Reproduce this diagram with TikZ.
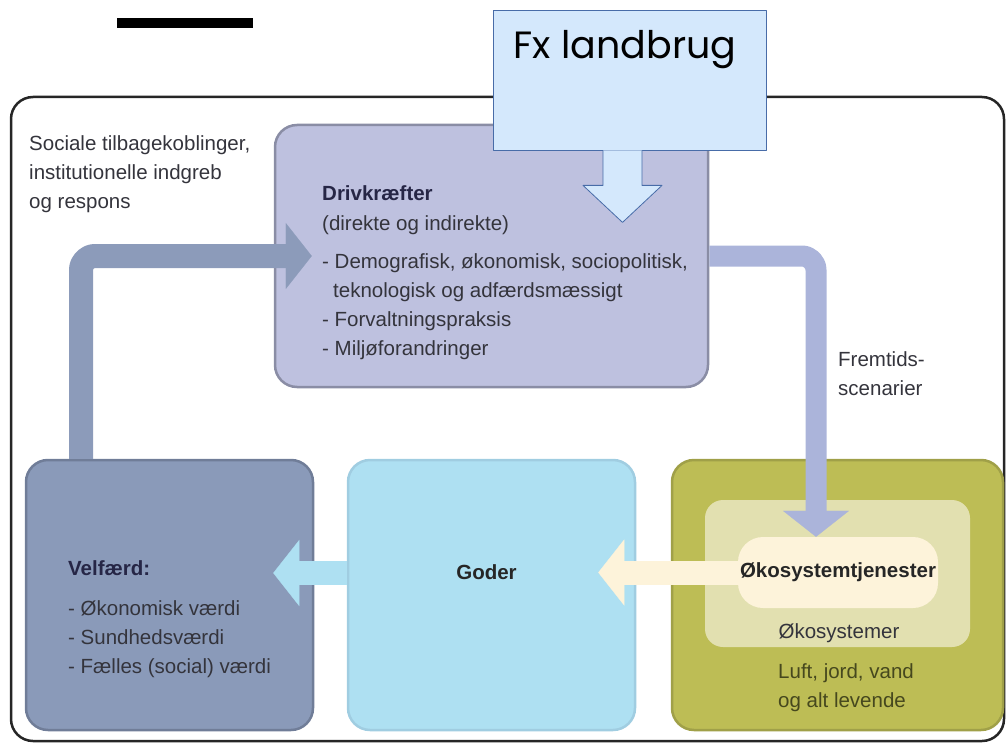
\documentclass[tikz,border=0pt]{standalone}
\usepackage{fontspec}
\setmainfont{Liberation Sans}
\newfontfamily\gothicfont{Poppins}
\usepackage{tikz}
\usetikzlibrary{arrows.meta,positioning,calc}
\definecolor{driveFill}{RGB}{190,193,223}
\definecolor{driveLine}{RGB}{138,141,165}
\definecolor{velfFill}{RGB}{138,154,185}
\definecolor{velfLine}{RGB}{112,125,152}
\definecolor{goderFill}{RGB}{174,224,242}
\definecolor{goderLine}{RGB}{160,205,225}
\definecolor{ecoFill}{RGB}{189,189,85}
\definecolor{ecoLine}{RGB}{160,160,72}
\definecolor{paleFill}{RGB}{226,224,176}
\definecolor{creamFill}{RGB}{253,243,218}
\definecolor{loopCol}{RGB}{140,155,186}
\definecolor{scenCol}{RGB}{171,180,218}
\definecolor{landFill}{RGB}{212,232,252}
\definecolor{landLine}{RGB}{72,108,168}
\definecolor{inkGray}{RGB}{52,52,60}
\definecolor{inkNavy}{RGB}{38,38,70}
\definecolor{inkOlive}{RGB}{70,72,30}
\tikzset{
  panel/.style={draw, rounded corners=22pt, line width=2.5pt, minimum width=287pt, minimum height=270pt, inner sep=0pt},
  txt/.style={font=\fontsize{20.5}{29}\selectfont, text=inkGray, align=left, inner sep=0pt},
  headtxt/.style={txt, font=\fontsize{20.5}{29}\selectfont\bfseries, text=inkNavy},
  blockarr/.style={line width=24pt, -{Triangle[length=26pt,width=66pt,line width=0.2pt]}},
  frame/.style={draw=black!85, line width=2.5pt, rounded corners=22pt}
}
\begin{document}
\begin{tikzpicture}[x=1pt,y=-1pt, line join=round]
\useasboundingbox (0,0) rectangle (1008,743);

% top bar and outer frame
\fill[black] (117,18) rectangle (253,28);
\draw[frame] (11,97) rectangle (1004,741);

% Boxes
\node[panel, fill=driveFill, draw=driveLine, minimum width=433pt, minimum height=262pt] (drive) at (491.5,256) {};
\node[panel, fill=velfFill, draw=velfLine] (velf) at (169.5,595) {};
\node[panel, fill=goderFill, draw=goderLine] (goder) at (491.5,595) {};
\node[panel, fill=ecoFill, draw=ecoLine, minimum width=331pt] (eco) at (837.5,595) {};
\node[fill=paleFill, rounded corners=18pt, minimum width=265pt, minimum height=147pt] (pale) at (837.5,573.5) {};
\node[fill=creamFill, rounded corners=25pt, minimum width=200pt, minimum height=71pt, inner sep=0pt,
      font=\fontsize{20.5}{29}\selectfont\bfseries, text=black!85] (ecoserv) at (838,572.5) {Økosystemtjenester};

% Fx landbrug
\node[draw=landLine, fill=landFill, line width=0.8pt, minimum width=273pt, minimum height=140pt] (landbrug) at (629.5,80) {};
\node[font=\gothicfont\fontsize{38}{40}\selectfont, anchor=base, inner sep=0pt] (fxtxt) at (625,59) {Fx landbrug};
\draw[draw=landLine, fill=landFill, line width=0.8pt]
  ($(landbrug.south)+(-26.5,0)$) -- ++(0,35) -- ++(-20,0) -- ++(39.5,37) -- ++(39.5,-37) -- ++(-20,0) -- ++(0,-35);

% Arrows
\draw[blockarr, loopCol, rounded corners=14pt] ($(velf.north)+(-88.5,0)$) |- ($(drive.west)+(38,0)$);
\draw[blockarr, scenCol, rounded corners=14pt, line width=21pt] (drive.east) -| ($(ecoserv.north)+(-22,0)$);
\draw[blockarr, goderFill] ($(goder.west)+(0,-22)$) -- ($(velf.east)+(-41,-22)$);
\draw[blockarr, creamFill] (ecoserv.west) -- ($(goder.east)+(-38,-22.5)$);

% Texts
\node[txt, anchor=north west] (social) at (29,135) {Sociale tilbagekoblinger,\\institutionelle indgreb\\og respons};
\node[txt, anchor=north west] (drivetxt) at (322,185)
  {{\bfseries\color{inkNavy}Drivkræfter}\\[1pt]
   (direkte og indirekte)\\[9pt]
   - Demografisk, økonomisk, sociopolitisk,\\
   \hspace*{11pt}teknologisk og adfærdsmæssigt\\
   - Forvaltningspraksis\\
   - Miljøforandringer};
\node[txt, anchor=north west] (scen) at (838,351) {Fremtids-\\scenarier};
\node[txt, anchor=north west] (velftxt) at (68,560)
  {{\bfseries\color{inkNavy}Velfærd:}\\[11pt]
   - Økonomisk værdi\\
   - Sundhedsværdi\\
   - Fælles (social) værdi};
\node[headtxt, anchor=base, text=black!85] (godertxt) at (486.5,579) {Goder};
\node[txt, anchor=base] (ecotxt) at (839,638) {Økosystemer};
\node[txt, anchor=north west, text=inkOlive] (lufttxt) at (778,663) {Luft, jord, vand\\og alt levende};
\end{tikzpicture}
\end{document}
